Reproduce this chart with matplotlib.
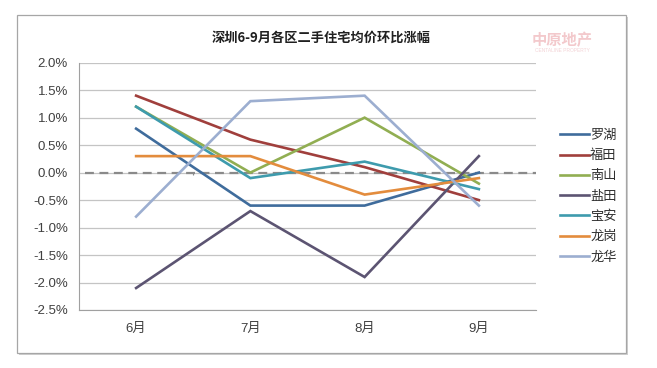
import numpy as np
import matplotlib
matplotlib.use('Agg')
from matplotlib import pyplot as plt
from matplotlib.patches import Rectangle

plt.rcParams['font.family'] = ['Liberation Sans', 'Noto Sans CJK SC', 'DejaVu Sans']
plt.rcParams['axes.unicode_minus'] = True

# data (month-on-month change, %)
months = ['6月', '7月', '8月', '9月']
districts = ['罗湖', '福田', '南山', '盐田', '宝安', '龙岗', '龙华']
luohu = [0.8, -0.6, -0.6, 0.0]
futian = [1.4, 0.6, 0.1, -0.5]
nanshan = [1.2, 0.0, 1.0, -0.2]
yantian = [-2.1, -0.7, -1.9, 0.3]
baoan = [1.2, -0.1, 0.2, -0.3]
longgang = [0.3, 0.3, -0.4, -0.1]
longhua = [-0.8, 1.3, 1.4, -0.6]
series = [luohu, futian, nanshan, yantian, baoan, longgang, longhua]
colors = ['#3f6c9c', '#a03f3c', '#91ae52', '#5c5472', '#3e9bad', '#e38c3d', '#9caed0']
yticks = np.arange(-2.5, 2.01, 0.5)

fig = plt.figure(figsize=(6.57, 3.68), dpi=100)
fig.patch.set_facecolor('white')

# chart frame with a light shadow
fig.patches.append(Rectangle((19/657, 1-355/368), 609/657, 338/368, transform=fig.transFigure,
                             facecolor='#d0d0d0', edgecolor='none', zorder=0))
fig.patches.append(Rectangle((17/657, 1-353/368), 609/657, 338/368, transform=fig.transFigure,
                             facecolor='white', edgecolor='#a6a6a6', lw=0.9, zorder=0.5))

ax = fig.add_axes([79/657, 1-310/368, 457/657, 247.3/368])
ax.set_zorder(2)
ax.set_facecolor('none')
x = np.arange(len(months))
for name, vals, c in zip(districts, series, colors):
    ax.plot(x, vals, color=c, lw=1.9, label=name, solid_joinstyle='miter', zorder=3)

ax.set_xlim(-0.5, len(months)-0.5)
ax.set_ylim(-2.5, 2.0)
ax.set_yticks(yticks)
ax.set_yticklabels(['%.1f%%' % v for v in yticks])
ax.set_xticks(x)
ax.set_xticklabels(months)
ax.grid(axis='y', color='#c4c4c4', lw=0.9)
ax.set_axisbelow(True)
for s in ['top', 'right']:
    ax.spines[s].set_visible(False)
ax.spines['left'].set_color('#a0a0a0')
ax.spines['bottom'].set_color('#a0a0a0')
ax.tick_params(axis='both', length=0, labelsize=9.5, colors='#404040')
ax.tick_params(axis='y', pad=8)
ax.tick_params(axis='x', pad=9)

# zero line (category axis) with boundary ticks
ax.axhline(0, xmin=0.013, xmax=1, color='#8a8a8a', lw=1.6, ls=(0, (4, 2.5)), zorder=2)
ax.vlines(x[:-1] + 0.5, -0.05, 0, color='#8a8a8a', lw=0.8, zorder=2)

fig.text(321/657, 1-38/368, '深圳6-9月各区二手住宅均价环比涨幅', ha='center', va='center',
         fontsize=9.5, fontweight='semibold', color='#202020',
         family=['Noto Sans CJK SC', 'DejaVu Sans'])

# watermark
fig.text(562/657, 1-40/368, '中原地产', ha='center', va='center', fontsize=11,
         fontweight='bold', color='#f3c9cc', family=['Noto Sans CJK SC'])
fig.text(562/657, 1-51/368, 'CENTALINE PROPERTY', ha='center', va='center', fontsize=3.5,
         color='#f3d3d6')

leg = fig.legend(loc='upper left', bbox_to_anchor=(548/657, 1-117/368), frameon=False,
                 handlelength=2.2, handletextpad=0.1, labelspacing=0.55,
                 prop={'family': ['Noto Sans CJK SC'], 'size': 9.5})
for t in leg.get_texts():
    t.set_color('#303030')

fig.savefig('out.png', dpi=100)
